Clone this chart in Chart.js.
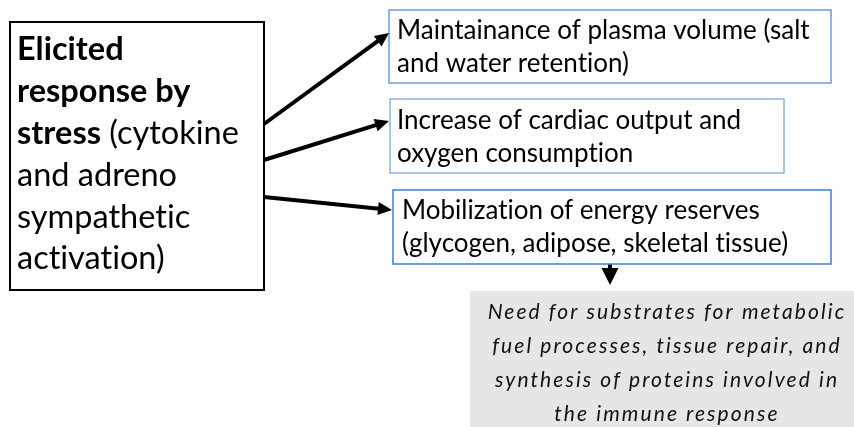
<!DOCTYPE html>
<html>
<head>
<meta charset="utf-8">
<script src="https://cdn.jsdelivr.net/npm/chart.js@4"></script>
<style>
  html, body { margin: 0; padding: 0; background: #fff; }
  #wrap { width: 854px; height: 427px; }
  canvas { font-variant-ligatures: none; }
</style>
</head>
<body>
<div id="wrap"><canvas id="diagram" width="854" height="427"></canvas></div>
<script>
// diagram text, each box is a list of lines; left box lines are [text, bold] pieces
const causeLines = [
    [['Elicited', true]],
    [['response by', true]],
    [['stress', true], [' (cytokine', false]],
    [['and adreno', false]],
    [['sympathetic', false]],
    [['activation)', false]],
];
const effectLines = [
    ['Maintainance of plasma volume (salt', 'and water retention)'],
    ['Increase of cardiac output and', 'oxygen consumption'],
    ['Mobilization of energy reserves', '(glycogen, adipose, skeletal tissue)'],
];
const outcomeLines = [
    'Need for substrates for metabolic',
    'fuel processes, tissue repair, and',
    'synthesis of proteins involved in',
    'the immune response',
];

// layout in axis units (axes run 0..854 and 0..427)
const layout = {
    cause: { x0: 10, y0: 22, x1: 264, y1: 290, textX: 17, firstY: 50, step: 41.8 },
    effects: [
        { x0: 389, y0: 10, x1: 831, y1: 83, textX: 397, firstY: 31, step: 33, border: '#6b9de0' },
        { x0: 390, y0: 99, x1: 784, y1: 173, textX: 397, firstY: 121, step: 33, border: '#8fb3e8' },
        { x0: 393, y0: 190, x1: 831, y1: 264, textX: 402, firstY: 211, step: 33, border: '#3f7fd6' },
    ],
    outcome: { x0: 470, y0: 291, x1: 860, y1: 430, centerX: 667, firstY: 312, step: 34 },
    arrows: [
        [[264, 124], [389, 33]],
        [[264, 160], [389, 121]],
        [[264, 197], [392, 210]],
        [[610, 264], [610, 285]],
    ],
};

const FONT = 'Lato, "Open Sans", sans-serif';
const HEAD = [[14, 6.5], [14, 6.5], [14, 6.5], [17, 8.5]]; // arrowhead length, half width

const toPx = (chart, x, y) => [chart.scales.x.getPixelForValue(x), chart.scales.y.getPixelForValue(y)];

function drawBox(ctx, chart, b, stroke, lw, fill) {
    const [ax, ay] = toPx(chart, b.x0, b.y0);
    const [bx, by] = toPx(chart, b.x1, b.y1);
    if (fill) {
        ctx.fillStyle = fill;
        ctx.fillRect(ax, ay, bx - ax, by - ay);
    }
    if (stroke) {
        ctx.strokeStyle = stroke;
        ctx.lineWidth = lw;
        ctx.strokeRect(ax, ay, bx - ax, by - ay);
    }
}

const diagramPlugin = {
    id: 'diagram',
    beforeDatasetsDraw(chart) {
        const ctx = chart.ctx;
        ctx.save();
        drawBox(ctx, chart, layout.outcome, null, 0, '#e6e6e6');
        ctx.restore();
    },
    afterDatasetsDraw(chart) {
        const ctx = chart.ctx;
        ctx.save();
        ctx.textBaseline = 'middle';
        ctx.textRendering = 'optimizeSpeed'; // no "ti" ligature

        // left box
        const c = layout.cause;
        drawBox(ctx, chart, c, '#000', 2, null);
        ctx.fillStyle = '#000';
        causeLines.forEach((parts, i) => {
            let [x, y] = toPx(chart, c.textX, c.firstY + i * c.step);
            parts.forEach(([t, bold]) => {
                ctx.font = (bold ? 'bold ' : '') + '32.5px ' + FONT;
                ctx.fillText(t, x, y);
                x += ctx.measureText(t).width;
            });
        });

        // effect boxes
        effectLines.forEach((lines, k) => {
            const b = layout.effects[k];
            drawBox(ctx, chart, b, b.border, 1.5, null);
            ctx.fillStyle = '#000';
            ctx.font = '26px ' + FONT;
            lines.forEach((t, i) => {
                const [x, y] = toPx(chart, b.textX, b.firstY + i * b.step);
                ctx.fillText(t, x, y);
            });
        });

        // outcome text
        const o = layout.outcome;
        ctx.font = 'italic 21px ' + FONT;
        ctx.letterSpacing = '2.1px';
        ctx.textAlign = 'center';
        ctx.fillStyle = '#111';
        outcomeLines.forEach((t, i) => {
            const [x, y] = toPx(chart, o.centerX, o.firstY + i * o.step);
            ctx.fillText(t, x, y);
        });
        ctx.letterSpacing = '0px';

        // arrowheads
        layout.arrows.forEach(([a, b], i) => {
            const [x0, y0] = toPx(chart, a[0], a[1]);
            const [x1, y1] = toPx(chart, b[0], b[1]);
            const ang = Math.atan2(y1 - y0, x1 - x0);
            const [len, half] = HEAD[i];
            const cx = Math.cos(ang), sy = Math.sin(ang);
            ctx.fillStyle = '#000';
            ctx.beginPath();
            ctx.moveTo(x1, y1);
            ctx.lineTo(x1 - len * cx + half * sy, y1 - len * sy - half * cx);
            ctx.lineTo(x1 - len * cx - half * sy, y1 - len * sy + half * cx);
            ctx.closePath();
            ctx.fill();
        });
        ctx.restore();
    }
};

// arrow shafts as two-point line datasets, stopped short of the tip
const arrowSets = layout.arrows.map(([a, b]) => {
    const ang = Math.atan2(b[1] - a[1], b[0] - a[0]);
    return {
        data: [{ x: a[0], y: a[1] }, { x: b[0] - Math.cos(ang) * 8, y: b[1] - Math.sin(ang) * 8 }],
        showLine: true,
        borderColor: '#000',
        borderWidth: 4,
        pointRadius: 0,
        fill: false,
    };
});

new Chart(document.getElementById('diagram'), {
    type: 'scatter',
    data: { datasets: arrowSets },
    options: {
        responsive: false,
        animation: false,
        events: [],
        layout: { padding: 0 },
        plugins: { legend: { display: false }, tooltip: { enabled: false } },
        scales: {
            x: { type: 'linear', min: 0, max: 854, display: false },
            y: { type: 'linear', min: 0, max: 427, reverse: true, display: false },
        },
    },
    plugins: [diagramPlugin],
});
</script>
</body>
</html>
